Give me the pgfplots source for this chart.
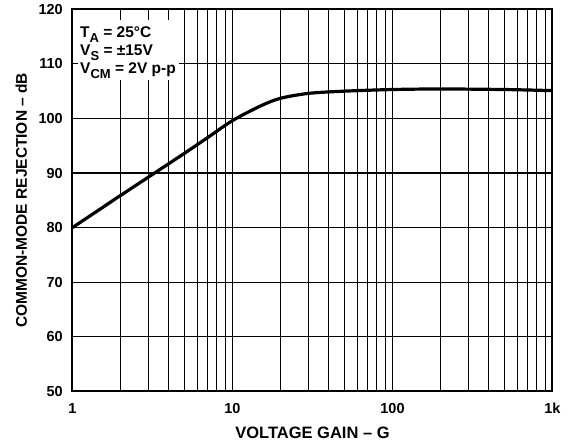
\documentclass[border=0pt]{standalone}
\usepackage{pgfplots}
\pgfplotsset{compat=1.18}
\usepackage{fontspec}
\setmainfont{Liberation Sans}
\newcommand{\sub}[1]{\raisebox{-0.33em}{\fontsize{13}{13}\selectfont #1}}
\begin{document}
\begin{tikzpicture}
\begin{axis}[
  scale only axis,
  width=480pt, height=382pt,
  at={(0,0)}, anchor=south west,
  xmode=log, log basis x=10,
  xmin=1, xmax=1000, ymin=50, ymax=120,
  xtick={1,10,100,1000},
  xticklabels={1,10,100,1k},
  minor xtick={2,3,4,5,6,7,8,9,20,30,40,50,60,70,80,90,200,300,400,500,600,700,800,900},
  ytick={50,60,...,120},
  grid=both,
  major x grid style={black, line width=1.5pt},
  minor x grid style={black, line width=1pt},
  major y grid style={black, line width=1.1pt},
  tick style={draw=none},
  axis line style={black, line width=2pt},
  tick label style={font=\fontsize{14.5}{16}\selectfont\bfseries, inner sep=0pt},
  /pgf/number format/assume math mode=true,
  xlabel={VOLTAGE GAIN -- G},
  ylabel={COMMON-MODE REJECTION -- dB},
  xlabel style={font=\fontsize{16.5}{18}\selectfont\bfseries,
    at={([yshift=-47.7pt]axis description cs:0.5,0)}, anchor=base},
  ylabel style={font=\fontsize{15.5}{17}\selectfont\bfseries,
    at={([xshift=-45.5pt]axis description cs:0,0.5)}, anchor=base},
  xticklabel style={anchor=base, yshift=-22.7pt},
  yticklabel style={anchor=east, xshift=-9.5pt},
  log ticks with fixed point,
  clip=false,
]
\addplot[black, line width=3.2pt, smooth, tension=0.5] coordinates {
(1,80) (2,85.9) (3,89.3) (5,93.6) (7,96.5) (10,99.6) (15,102.3) (20,103.7)
(30,104.6) (50,105.0) (100,105.3) (200,105.4) (500,105.3) (1000,105.1)
};
\fill[white] ([xshift=5.5pt,yshift=311.3pt]axis description cs:0,0) rectangle ([xshift=106.5pt,yshift=371.3pt]axis description cs:0,0);
\node[anchor=base west, font=\fontsize{15.5}{17}\selectfont\bfseries, inner sep=0pt]
  at ([xshift=7.5pt,yshift=354pt]axis description cs:0,0) {T\sub{A} = 25°C};
\node[anchor=base west, font=\fontsize{15.5}{17}\selectfont\bfseries, inner sep=0pt]
  at ([xshift=7.5pt,yshift=336pt]axis description cs:0,0) {V\sub{S} = ±15V};
\node[anchor=base west, font=\fontsize{15.5}{17}\selectfont\bfseries, inner sep=0pt]
  at ([xshift=7.5pt,yshift=318pt]axis description cs:0,0) {V\sub{CM} = 2V p-p};
\end{axis}
\pgfresetboundingbox
\path[use as bounding box] (-72.5pt,-52.7pt) rectangle (498.5pt,391.3pt);
\end{tikzpicture}
\end{document}
